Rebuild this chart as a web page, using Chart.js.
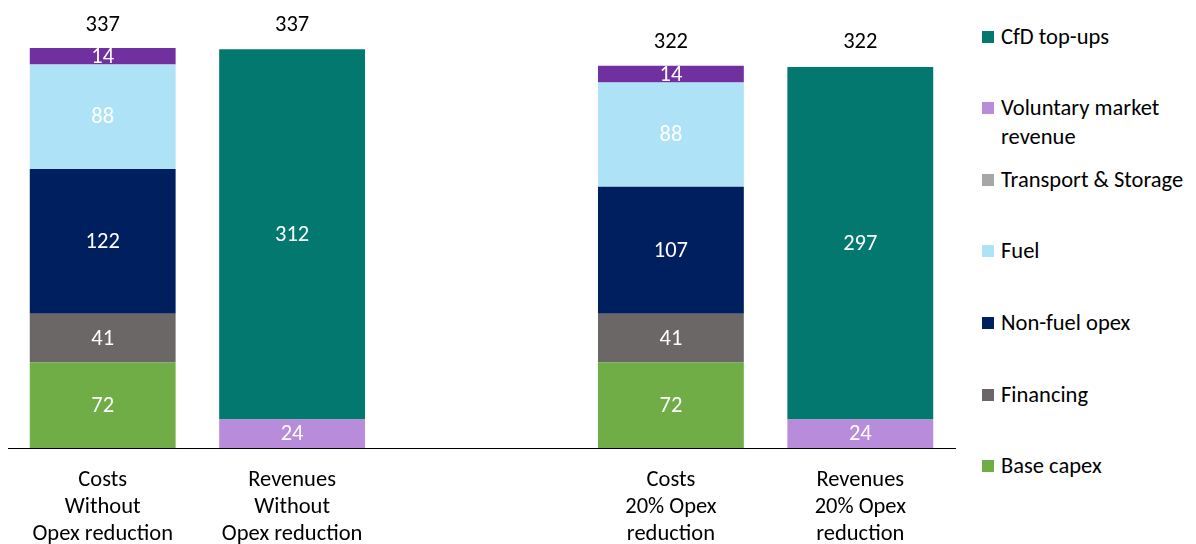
<!DOCTYPE html>
<html>
<head>
<meta charset="utf-8">
<script src="https://cdn.jsdelivr.net/npm/chart.js@4.4.1/dist/chart.umd.min.js"></script>
<style>
  body { margin: 0; background: #fff; font-family: Carlito, Lato, sans-serif; }
  #wrap { position: relative; width: 1196px; height: 544px; }
  #chartBox { position: absolute; left: 0; top: 0; width: 965px; height: 544px; }
  #leyenda { position: absolute; left: 982px; top: 0; width: 214px; }
  .item { position: absolute; left: 0; display: flex; align-items: flex-start; font-size: 22.5px; line-height: 29px; color: #000; white-space: nowrap; }
  .caja { width: 12px; height: 12px; margin-top: 9px; margin-right: 7px; flex: none; }
</style>
</head>
<body>
<div id="wrap">
  <div id="chartBox"><canvas id="myChart"></canvas></div>
  <div id="leyenda"></div>
</div>
<script>
// categorias (la tercera queda vacia como separador)
const categorias = [
  ["Costs", "Without", "Opex reduction"],
  ["Revenues", "Without", "Opex reduction"],
  "",
  ["Costs", "20% Opex", "reduction"],
  ["Revenues", "20% Opex", "reduction"]
];

// series, de abajo hacia arriba
const baseCapex = [72, null, null, 72, null];
const financing = [41, null, null, 41, null];
const nonFuelOpex = [122, null, null, 107, null];
const fuel = [88, null, null, 88, null];
const otros = [14, null, null, 14, null];
const voluntaryMarket = [null, 24, null, null, 24];
const cfdTopUps = [null, 312, null, null, 297];
const totales = [337, 337, null, 322, 322];

// leyenda
const leyendaTextos = ["CfD top-ups", "Voluntary market\nrevenue", "Transport & Storage", "Fuel", "Non-fuel opex", "Financing", "Base capex"];
const leyendaColores = ["#03786F", "#B98BDB", "#A6A6A6", "#AEE2F6", "#001F5F", "#6B6767", "#70AD47"];
const leyendaY = [22, 93, 165, 236, 308, 380, 451];

const fuente = "Carlito, Lato, sans-serif";
const tamFuente = 22.5;

function renderLeyenda() {
  const cont = document.getElementById("leyenda");
  leyendaTextos.forEach((texto, i) => {
    const div = document.createElement("div");
    div.className = "item";
    div.style.top = leyendaY[i] + "px";
    div.innerHTML = `<span class="caja" style="background:${leyendaColores[i]}"></span><span>${texto.replace("\n", "<br>")}</span>`;
    cont.appendChild(div);
  });
}

// escribe los valores dentro de cada segmento y el total encima
const etiquetasPlugin = {
  id: "etiquetas",
  afterDatasetsDraw(chart) {
    const ctx = chart.ctx;
    ctx.save();
    ctx.font = `${tamFuente}px ${fuente}`;
    ctx.textAlign = "center";
    ctx.textBaseline = "middle";
    chart.data.datasets.forEach((ds, i) => {
      const meta = chart.getDatasetMeta(i);
      meta.data.forEach((bar, j) => {
        const v = ds.data[j];
        if (v == null) return;
        const p = bar.getProps(["x", "y", "base"], true);
        ctx.fillStyle = "#fff";
        ctx.fillText(v, p.x, (p.y + p.base) / 2 + 1);
      });
    });
    const y = chart.scales.y;
    const x = chart.scales.x;
    ctx.fillStyle = "#000";
    totales.forEach((t, j) => {
      if (t == null) return;
      ctx.fillText(t, x.getPixelForValue(j), y.getPixelForValue(t) - 23);
    });
    ctx.restore();
  }
};

function renderGrafica() {
  const series = [
    { label: "Base capex", data: baseCapex, backgroundColor: "#70AD47" },
    { label: "Financing", data: financing, backgroundColor: "#6B6767" },
    { label: "Non-fuel opex", data: nonFuelOpex, backgroundColor: "#001F5F" },
    { label: "Fuel", data: fuel, backgroundColor: "#AEE2F6" },
    { label: "Other", data: otros, backgroundColor: "#7030A0" },
    { label: "Voluntary market revenue", data: voluntaryMarket, backgroundColor: "#B98BDB" },
    { label: "CfD top-ups", data: cfdTopUps, backgroundColor: "#03786F" }
  ];
  const config = {
    type: "bar",
    data: {
      labels: categorias,
      datasets: series.map((s) => ({ ...s, borderWidth: 0, categoryPercentage: 1, barPercentage: 0.77 }))
    },
    options: {
      responsive: true,
      maintainAspectRatio: false,
      animation: false,
      layout: { padding: { left: 8, right: 10, top: 0, bottom: 0 } },
      plugins: { legend: { display: false }, tooltip: { enabled: false } },
      scales: {
        x: {
          stacked: true,
          grid: { display: false },
          border: { display: true, color: "#000", width: 1 },
          ticks: { color: "#000", font: { family: fuente, size: tamFuente, lineHeight: 1.19 }, padding: 11, maxRotation: 0, autoSkip: false },
          afterFit: (scale) => { scale.height = 96; }
        },
        y: {
          stacked: true,
          display: false,
          min: 0,
          max: 377.4
        }
      }
    },
    plugins: [etiquetasPlugin]
  };
  new Chart(document.getElementById("myChart"), config);
}

renderLeyenda();
renderGrafica();
</script>
</body>
</html>
